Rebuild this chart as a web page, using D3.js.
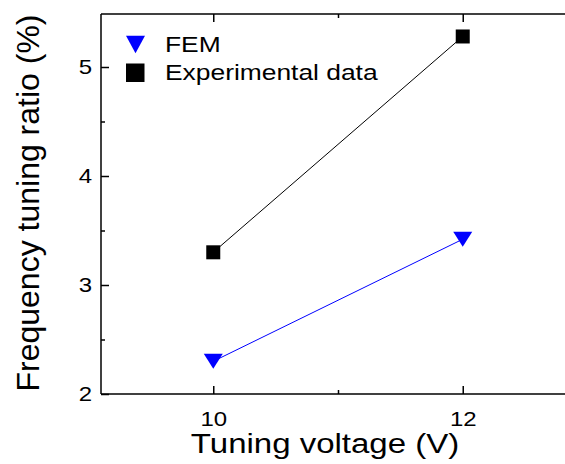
<!DOCTYPE html>
<html>
<head>
<meta charset="utf-8">
<script src="https://cdn.jsdelivr.net/npm/d3@7"></script>
<style>
  body { margin: 0; background: #fff; }
  svg text { font-family: "Liberation Sans", Arial, sans-serif; fill: #000; }
</style>
</head>
<body>
<svg width="565" height="464"></svg>
<script>
// Data
var voltages = [10, 12];
var femValues = [2.30, 3.42];
var expValues = [3.30, 5.28];
var xTicks = [10, 12];
var xMinor = [11];
var yTicks = [2, 3, 4, 5];
var yMinor = [2.5, 3.5, 4.5];

var svg = d3.select("svg"),
    width = +svg.attr("width"),
    height = +svg.attr("height");

// plot box (right side runs past the window)
var pLeft = 101, pTop = 14, pRight = 575, pBottom = 394;
var stretch = 1.2; // text in the reference is drawn wide

var x = d3.scaleLinear().domain([9.1, 12.9]).range([pLeft, pRight]);
var y = d3.scaleLinear().domain([2, 2 + 380 / 109]).range([pBottom, pTop]);

// frame lines
svg.append("line").attr("x1", pLeft).attr("x2", pRight).attr("y1", pBottom).attr("y2", pBottom)
    .style("stroke", "#000").style("stroke-width", 1.5);
svg.append("line").attr("x1", pLeft).attr("x2", pRight).attr("y1", pTop).attr("y2", pTop)
    .style("stroke", "#000").style("stroke-width", 1.5);
svg.append("line").attr("x1", pLeft).attr("x2", pLeft).attr("y1", pTop).attr("y2", pBottom)
    .style("stroke", "#000").style("stroke-width", 1.5);

// bottom axis (ticks inward)
svg.append("g").attr("class", "xaxis").attr("transform", "translate(0," + pBottom + ")")
    .call(d3.axisBottom(x).tickValues(xTicks).tickFormat(d3.format("d"))
        .tickSizeInner(-8).tickSizeOuter(0).tickPadding(17.5));
svg.append("g").attr("transform", "translate(0," + pBottom + ")")
    .call(d3.axisBottom(x).tickValues(xMinor).tickSizeInner(-4).tickSizeOuter(0).tickFormat(""));
// top mirrored ticks
svg.append("g").attr("transform", "translate(0," + pTop + ")")
    .call(d3.axisTop(x).tickValues(xTicks).tickSizeInner(-8).tickSizeOuter(0).tickFormat(""));
svg.append("g").attr("transform", "translate(0," + pTop + ")")
    .call(d3.axisTop(x).tickValues(xMinor).tickSizeInner(-4).tickSizeOuter(0).tickFormat(""));

// left axis
svg.append("g").attr("class", "yaxis").attr("transform", "translate(" + pLeft + ",0)")
    .call(d3.axisLeft(y).tickValues(yTicks).tickFormat(d3.format("d"))
        .tickSizeInner(-8).tickSizeOuter(0).tickPadding(7.5));
svg.append("g").attr("transform", "translate(" + pLeft + ",0)")
    .call(d3.axisLeft(y).tickValues(yMinor).tickSizeInner(-4).tickSizeOuter(0).tickFormat(""));

svg.selectAll(".domain").remove();
svg.selectAll(".tick line").style("stroke", "#000").style("stroke-width", 1.5);
svg.selectAll(".tick text")
    .attr("font-size", null).attr("font-family", null)
    .style("font-size", "20px")
    .style("fill", "#000")
    .attr("transform", "scale(" + stretch + ",1)");

// axis titles
svg.append("g")
    .attr("transform", "translate(325,453) scale(" + stretch + ",1)")
    .append("text")
    .attr("text-anchor", "middle")
    .style("font-size", "27.5px")
    .text("Tuning voltage (V)");

svg.append("text")
    .attr("transform", "translate(39,203) rotate(-90)")
    .attr("text-anchor", "middle")
    .style("font-size", "32px")
    .text("Frequency tuning ratio (%)");

// lines
var line = d3.line()
    .x(function(d, i) { return x(voltages[i]); })
    .y(function(d) { return y(d); });

svg.append("path").attr("d", line(expValues))
    .style("fill", "none").style("stroke", "#000").style("stroke-width", 1);
svg.append("path").attr("d", line(femValues))
    .style("fill", "none").style("stroke", "#0000ff").style("stroke-width", 1);

// markers
function triPath(cx, cy, w, h) {
    return "M" + (cx - w / 2) + "," + (cy - h / 2) + "L" + (cx + w / 2) + "," + (cy - h / 2) +
        "L" + cx + "," + (cy + h / 2) + "Z";
}

svg.append("g").selectAll("rect")
    .data(expValues)
    .enter().append("rect")
    .attr("x", function(d, i) { return x(voltages[i]) - 7; })
    .attr("y", function(d) { return y(d) - 7; })
    .attr("width", 14).attr("height", 14)
    .style("fill", "#000");

svg.append("g").selectAll("path")
    .data(femValues)
    .enter().append("path")
    .attr("d", function(d, i) { return triPath(x(voltages[i]), y(d), 19, 15); })
    .style("fill", "#0000ff");

// legend
var legend = svg.append("g");
legend.append("path").attr("d", triPath(135.5, 44.5, 19, 17.5)).style("fill", "#0000ff");
legend.append("g").attr("transform", "translate(165,52.3) scale(" + stretch + ",1)")
    .append("text").style("font-size", "22px").text("FEM");
legend.append("rect").attr("x", 126).attr("y", 63.5).attr("width", 18.5).attr("height", 18.5)
    .style("fill", "#000");
legend.append("g").attr("transform", "translate(165,80.3) scale(" + stretch + ",1)")
    .append("text").style("font-size", "22px").text("Experimental data");
</script>
</body>
</html>
